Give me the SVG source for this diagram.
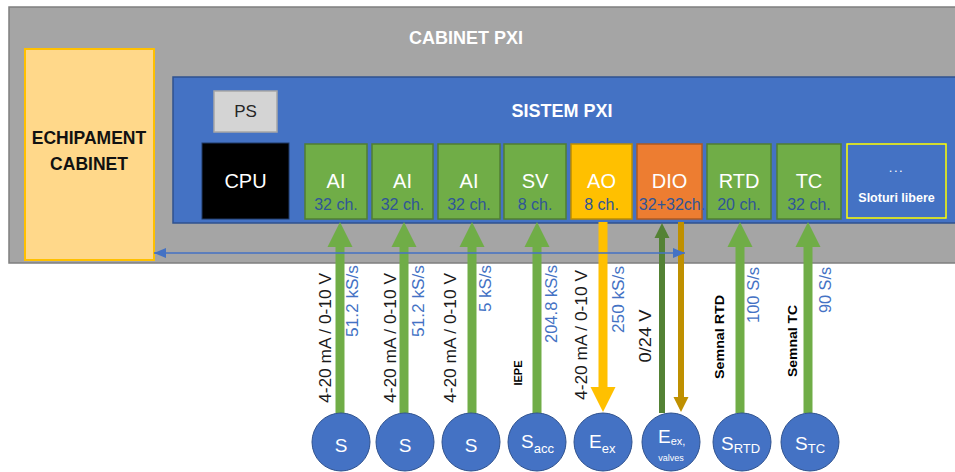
<svg xmlns="http://www.w3.org/2000/svg" width="955" height="472" viewBox="0 0 955 472">
  <defs>
    <style>
      text { font-family: "Liberation Sans", "Open Sans", sans-serif; }
      .title { font-size: 18px; font-weight: bold; fill: #ffffff; text-anchor: middle; }
      .mod { font-size: 20px; fill: #ffffff; text-anchor: middle; }
      .ch { font-size: 16px; fill: #2f5597; text-anchor: middle; }
      .grn { fill: #70ad47; stroke: #507e32; stroke-width: 1.5; }
      .circ { fill: #4472c4; stroke: #2f528f; stroke-width: 1; }
      .cl { font-size: 19px; fill: #ffffff; }
      .sub { font-size: 13px; fill: #ffffff; }
      .sig { font-size: 16px; fill: #1a1a1a; }
      .rate { font-size: 16px; fill: #4472c4; text-anchor: end; }
      .bsig { font-size: 13px; font-weight: bold; fill: #000000; }
      .up { fill: #70ad47; }
    </style>
    <marker id="bhead" viewBox="0 0 12 10" refX="12" refY="5" markerWidth="12" markerHeight="10" markerUnits="userSpaceOnUse" orient="auto-start-reverse">
      <path d="M0,0 L12,5 L0,10 Z" fill="#4472c4"/>
    </marker>
  </defs>

  <!-- cabinet enclosure -->
  <g id="cabinet">
    <rect x="9" y="7" width="960" height="256" fill="#a5a5a5" stroke="#7f7f7f" stroke-width="1.5"/>
    <text class="title" x="466" y="44">CABINET PXI</text>
  </g>

  <g id="echipament">
    <rect x="25" y="49" width="129" height="211" fill="#ffd88a" stroke="#ffc000" stroke-width="2"/>
    <text x="89" y="144" font-size="17.5" font-weight="bold" fill="#111" text-anchor="middle">ECHIPAMENT</text>
    <text x="89" y="170" font-size="17.5" font-weight="bold" fill="#111" text-anchor="middle">CABINET</text>
  </g>

  <!-- PXI chassis -->
  <g id="sistem">
    <rect x="173" y="77" width="800" height="146" fill="#4472c4" stroke="#2f528f" stroke-width="1.5"/>
    <text class="title" x="562" y="117">SISTEM PXI</text>
  </g>

  <g id="ps">
    <rect x="214" y="91" width="63" height="41" fill="#d4d4d4" stroke="#a6a6a6" stroke-width="1.5"/>
    <text x="245.5" y="117" font-size="17" fill="#262626" text-anchor="middle">PS</text>
  </g>

  <g id="cpu">
    <rect x="202" y="143" width="87" height="76" fill="#000000" stroke="#1f3864" stroke-width="1"/>
    <text class="mod" x="245.5" y="188">CPU</text>
  </g>

  <g id="ai1">
    <rect class="grn" x="305" y="144" width="62" height="75"/>
    <text class="mod" x="336" y="188">AI</text>
    <text class="ch" x="336" y="210">32 ch.</text>
  </g>
  <g id="ai2">
    <rect class="grn" x="372" y="144" width="61" height="75"/>
    <text class="mod" x="402.5" y="188">AI</text>
    <text class="ch" x="402.5" y="210">32 ch.</text>
  </g>
  <g id="ai3">
    <rect class="grn" x="438" y="144" width="62" height="75"/>
    <text class="mod" x="469" y="188">AI</text>
    <text class="ch" x="469" y="210">32 ch.</text>
  </g>
  <g id="sv">
    <rect class="grn" x="504" y="144" width="62" height="75"/>
    <text class="mod" x="535" y="188">SV</text>
    <text class="ch" x="535" y="210">8 ch.</text>
  </g>
  <g id="ao">
    <rect x="571" y="144" width="61" height="75" fill="#ffc000" stroke="#bc8c00" stroke-width="1.5"/>
    <text class="mod" x="601.5" y="188">AO</text>
    <text class="ch" x="601.5" y="210">8 ch.</text>
  </g>
  <g id="dio">
    <rect x="637" y="144" width="65" height="75" fill="#ed7d31" stroke="#ae5a21" stroke-width="1.5"/>
    <text class="mod" x="669.5" y="188">DIO</text>
    <text class="ch" x="672" y="210">32+32ch.</text>
  </g>
  <g id="rtd">
    <rect class="grn" x="707" y="144" width="64" height="75"/>
    <text class="mod" x="739" y="188">RTD</text>
    <text class="ch" x="739" y="210">20 ch.</text>
  </g>
  <g id="tc">
    <rect class="grn" x="777" y="144" width="64" height="75"/>
    <text class="mod" x="809" y="188">TC</text>
    <text class="ch" x="809" y="210">32 ch.</text>
  </g>
  <g id="sloturi">
    <rect x="847" y="144" width="99" height="74" fill="#4472c4" stroke="#ffff00" stroke-width="1.5"/>
    <text x="896.5" y="172" font-size="13" fill="#ffffff" text-anchor="middle" letter-spacing="1.5">...</text>
    <text x="896.5" y="202" font-size="12.5" font-weight="bold" fill="#ffffff" text-anchor="middle">Sloturi libere</text>
  </g>

  <!-- signal connectors -->
  <g id="connectors">
    <!-- inputs into acquisition modules -->
    <path class="up" d="M340,222 L352.5,247 L344.5,247 L344.5,413 L335.5,413 L335.5,247 L327.5,247 Z"/>
    <path class="up" d="M404,222 L416.5,247 L408.5,247 L408.5,413 L399.5,413 L399.5,247 L391.5,247 Z"/>
    <path class="up" d="M472,222 L484.5,247 L476.5,247 L476.5,413 L467.5,413 L467.5,247 L459.5,247 Z"/>
    <path class="up" d="M537,222 L549.5,247 L541.5,247 L541.5,413 L532.5,413 L532.5,247 L524.5,247 Z"/>
    <path class="up" d="M740,222 L752.5,247 L744.5,247 L744.5,413 L735.5,413 L735.5,247 L727.5,247 Z"/>
    <path class="up" d="M808,222 L820.5,247 L812.5,247 L812.5,413 L803.5,413 L803.5,247 L795.5,247 Z"/>
    <!-- analog output -->
    <path fill="#ffc000" d="M603,412 L615.5,387 L607.5,387 L607.5,222 L598.5,222 L598.5,387 L590.5,387 Z"/>
    <!-- digital in / out -->
    <path fill="#548235" d="M662,223 L669.5,238 L665,238 L665,413 L659,413 L659,238 L654.5,238 Z"/>
    <path fill="#bf9000" d="M681,412 L688.5,397 L684,397 L684,222 L678,222 L678,397 L673.5,397 Z"/>
    <!-- cabinet link -->
    <line x1="154" y1="253" x2="685" y2="253" stroke="#4472c4" stroke-width="1.6" marker-start="url(#bhead)" marker-end="url(#bhead)"/>

    <!-- connector labels -->
    <text class="sig" transform="translate(331,338) rotate(-90)" text-anchor="middle" textLength="130" lengthAdjust="spacingAndGlyphs">4-20 mA / 0-10 V</text>
    <text class="rate" transform="translate(358,265) rotate(-90)" textLength="72" lengthAdjust="spacingAndGlyphs">51.2 kS/s</text>
    <text class="sig" transform="translate(396,338) rotate(-90)" text-anchor="middle" textLength="130" lengthAdjust="spacingAndGlyphs">4-20 mA / 0-10 V</text>
    <text class="rate" transform="translate(424,265) rotate(-90)" textLength="72" lengthAdjust="spacingAndGlyphs">51.2 kS/s</text>
    <text class="sig" transform="translate(456,338) rotate(-90)" text-anchor="middle" textLength="130" lengthAdjust="spacingAndGlyphs">4-20 mA / 0-10 V</text>
    <text class="rate" transform="translate(491,265) rotate(-90)" textLength="47" lengthAdjust="spacingAndGlyphs">5 kS/s</text>
    <text transform="translate(522,373) rotate(-90)" text-anchor="middle" font-size="11" font-weight="bold" fill="#000">IEPE</text>
    <text class="rate" transform="translate(557,265) rotate(-90)" textLength="78" lengthAdjust="spacingAndGlyphs">204.8 kS/s</text>
    <text class="sig" transform="translate(587,335) rotate(-90)" text-anchor="middle" textLength="130" lengthAdjust="spacingAndGlyphs">4-20 mA / 0-10 V</text>
    <text class="rate" transform="translate(624,266) rotate(-90)" textLength="67" lengthAdjust="spacingAndGlyphs">250 kS/s</text>
    <text class="sig" transform="translate(651,336) rotate(-90)" text-anchor="middle" textLength="53" lengthAdjust="spacingAndGlyphs">0/24 V</text>
    <text class="bsig" transform="translate(724,337) rotate(-90)" text-anchor="middle" textLength="84" lengthAdjust="spacingAndGlyphs">Semnal RTD</text>
    <text class="rate" transform="translate(759,267) rotate(-90)" textLength="56" lengthAdjust="spacingAndGlyphs">100 S/s</text>
    <text class="bsig" transform="translate(797,341) rotate(-90)" text-anchor="middle" textLength="72" lengthAdjust="spacingAndGlyphs">Semnal TC</text>
    <text class="rate" transform="translate(831,267) rotate(-90)" textLength="46" lengthAdjust="spacingAndGlyphs">90 S/s</text>
  </g>

  <!-- field devices -->
  <g id="s1">
    <circle class="circ" cx="341" cy="442" r="29"/>
    <text class="cl" x="341" y="452" text-anchor="middle">S</text>
  </g>
  <g id="s2">
    <circle class="circ" cx="405" cy="442" r="29"/>
    <text class="cl" x="405" y="452" text-anchor="middle">S</text>
  </g>
  <g id="s3">
    <circle class="circ" cx="471" cy="442" r="29"/>
    <text class="cl" x="471" y="452" text-anchor="middle">S</text>
  </g>
  <g id="sacc">
    <circle class="circ" cx="537" cy="442" r="29"/>
    <text class="cl" x="521" y="448">S<tspan class="sub" dy="5">acc</tspan></text>
  </g>
  <g id="eex">
    <circle class="circ" cx="603" cy="442" r="29"/>
    <text class="cl" x="589" y="448">E<tspan class="sub" dy="5">ex</tspan></text>
  </g>
  <g id="eex-valves">
    <circle class="circ" cx="671" cy="442" r="29"/>
    <text class="cl" x="658" y="443" font-size="17">E<tspan font-size="11" dy="2">ex,</tspan></text>
    <text x="671" y="461" font-size="9" fill="#ffffff" text-anchor="middle">valves</text>
  </g>
  <g id="srtd">
    <circle class="circ" cx="742" cy="442" r="29"/>
    <text class="cl" x="721" y="450">S<tspan class="sub" dy="3">RTD</tspan></text>
  </g>
  <g id="stc">
    <circle class="circ" cx="810" cy="442" r="29"/>
    <text class="cl" x="795" y="450">S<tspan class="sub" dy="3">TC</tspan></text>
  </g>
</svg>
